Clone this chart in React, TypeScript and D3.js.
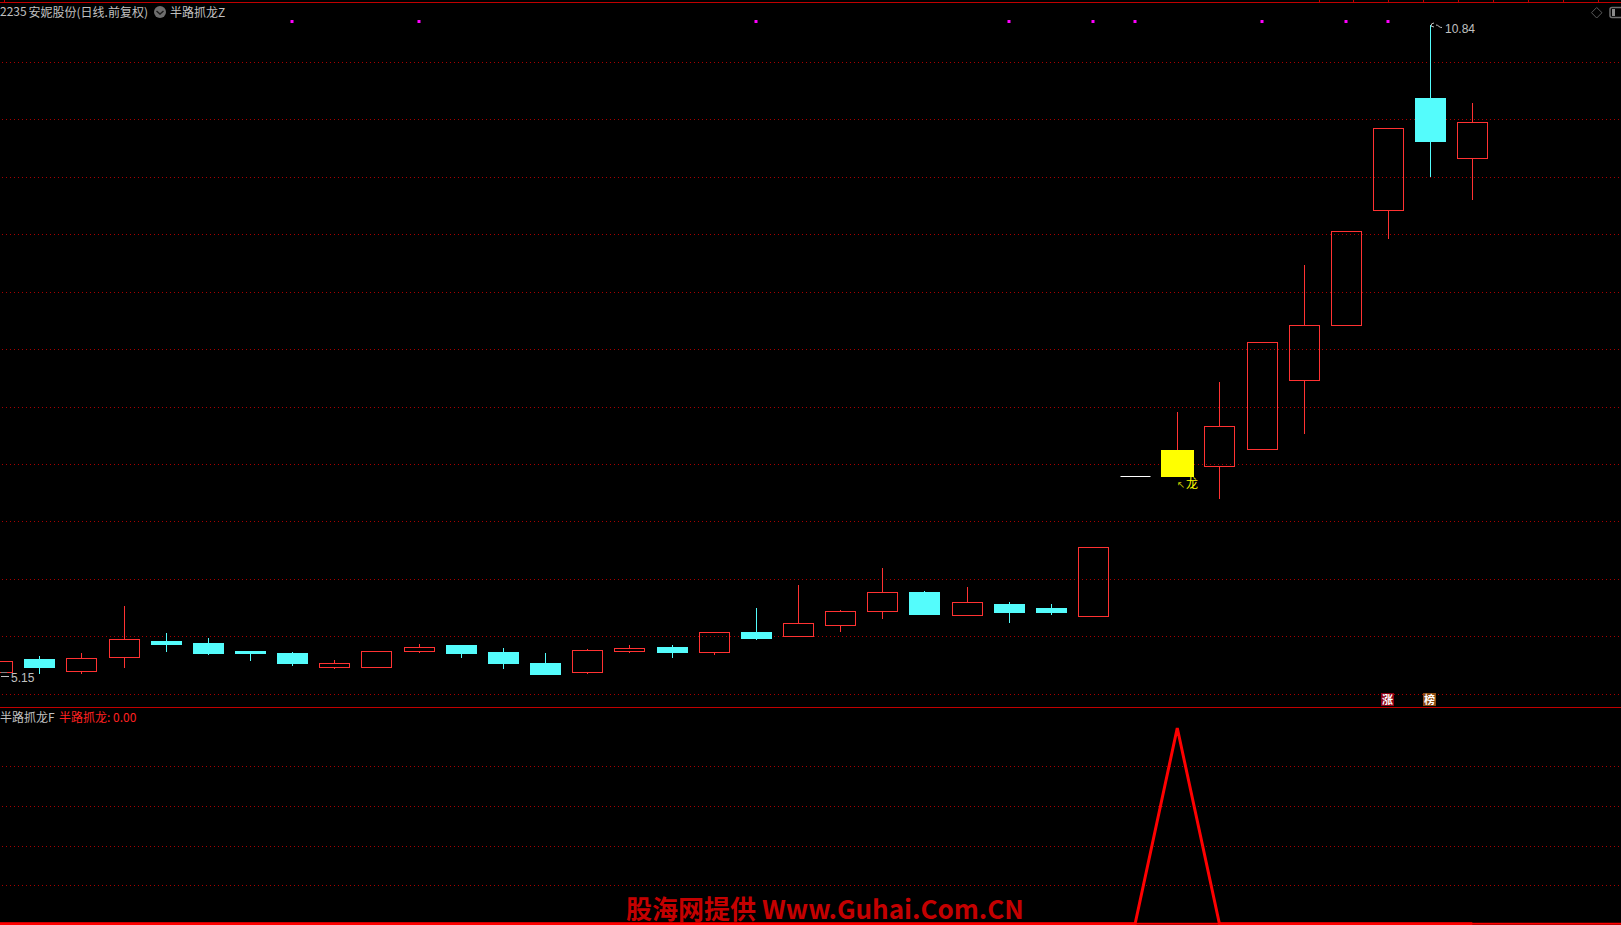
import React from "react";
import * as d3 from "d3";

const days = [-1,0,1,2,3,4,5,6,7,8,9,10,11,12,13,14,15,16,17,18,19,20,21,22,23,24,25,26,27,28,29,30,31,32,33,34];
const opens = [5.17,5.28,5.18,5.30,5.44,5.42,5.35,5.33,5.21,5.21,5.35,5.40,5.34,5.25,5.17,5.35,5.39,5.34,5.52,5.48,5.58,5.70,5.87,5.67,5.76,5.73,5.66,6.89,7.11,6.97,7.12,7.73,8.21,9.22,10.20,9.67];
const highs = [5.26,5.31,5.33,5.75,5.51,5.47,5.35,5.34,5.27,5.35,5.41,5.40,5.38,5.33,5.37,5.40,5.40,5.52,5.73,5.93,5.71,6.08,5.88,5.91,5.78,5.76,6.26,6.89,7.45,7.71,8.06,8.74,9.03,9.94,10.84,10.16];
const lows = [5.17,5.15,5.15,5.20,5.34,5.32,5.26,5.22,5.19,5.21,5.33,5.29,5.19,5.15,5.15,5.33,5.29,5.32,5.45,5.48,5.52,5.63,5.68,5.67,5.60,5.67,5.66,6.89,6.89,6.68,7.12,7.25,8.21,8.96,9.51,9.31];
const closes = [5.26,5.21,5.29,5.46,5.41,5.33,5.33,5.25,5.25,5.35,5.39,5.33,5.25,5.15,5.36,5.38,5.34,5.52,5.47,5.60,5.70,5.87,5.68,5.78,5.69,5.69,6.26,6.89,6.89,7.32,8.06,8.21,9.03,9.94,9.82,9.99];
const signalValues = [0,0,0,0,0,0,0,0,0,0,0,0,0,0,0,0,0,0,0,0,0,0,0,0,0,0,0,0,1,0,0,0,0,0,0,0];
const yellowDays = [27];
const markerDays = [6,9,17,23,25,26,29,31,32];
const mainGridIdx = [0,1,2,3,4,5,6,7,8,9,10,11];
const subGridIdx = [0,1,2,3];
const topTicks = [4,1319,1353,1388,1423,1458,1493,1528,1563,1598];

const RED = "#ff3232";
const CYAN = "#54fcfc";
const GRID = "#a80000";
const BORDER = "#c00000";
const CJK = "'Noto Sans CJK SC', 'Liberation Sans', sans-serif";
const NUM = "'Liberation Sans', sans-serif";

export default function App() {
  const x = d3.scaleLinear().domain([0, 34]).range([39.3, 1472.3]);
  const y = d3.scaleLinear().domain([5.15, 10.84]).range([674, 25]);
  const ySub = d3.scaleLinear().domain([0, 1]).range([923.7, 728]);
  const gridMain = d3.scaleLinear().domain([0, 11]).range([62, 693.6]);
  const gridSub = d3.scaleLinear().domain([0, 3]).range([766.3, 885.3]);
  const crisp = (v: number) => Math.round(v) + 0.5;
  const line = d3
    .line<number>()
    .x((d) => x(d))
    .y((_, i) => ySub(signalValues[i]));

  return (
    <svg
      width={1621}
      height={925}
      style={{ position: "fixed", left: 0, top: 0, background: "#000" }}
    >
      <rect width={1621} height={925} fill="#000" />
      {mainGridIdx.map((i) => (
        <line key={i} x1={2} x2={1621} y1={crisp(gridMain(i))} y2={crisp(gridMain(i))} stroke={GRID} strokeDasharray="1 3" />
      ))}
      {subGridIdx.map((i) => (
        <line key={i} x1={2} x2={1621} y1={crisp(gridSub(i))} y2={crisp(gridSub(i))} stroke={GRID} strokeDasharray="1 3" />
      ))}
      <line x1={0} x2={1621} y1={2.5} y2={2.5} stroke={BORDER} />
      {topTicks.map((t) => (
        <line key={t} x1={t + 0.5} x2={t + 0.5} y1={0} y2={2} stroke={BORDER} />
      ))}
      <line x1={0} x2={1621} y1={707.5} y2={707.5} stroke={BORDER} />

      {markerDays.map((d) => (
        <rect key={d} x={Math.round(x(d)) - 1.5} y={20} width={3} height={3} fill="#ff00ff" />
      ))}

      {days.map((d, i) => {
        const o = opens[i], c = closes[i], h = highs[i], l = lows[i];
        const cx = crisp(x(d));
        const top = crisp(y(Math.max(o, c)));
        const bot = crisp(y(Math.min(o, c)));
        const isYellow = yellowDays.includes(d);
        if (o === c && h === l) {
          return <line key={d} x1={cx - 15} x2={cx + 15} y1={top} y2={top} stroke="#ffffff" />;
        }
        const up = c >= o;
        const col = up || isYellow ? RED : CYAN;
        return (
          <g key={d} shapeRendering="crispEdges">
            <line x1={cx} x2={cx} y1={y(h)} y2={top} stroke={col} />
            <line x1={cx} x2={cx} y1={bot} y2={y(l)} stroke={col} />
            {isYellow ? (
              <rect x={cx - 16.5} y={top - 0.5} width={33} height={bot - top + 1} fill="#ffff00" />
            ) : up ? (
              <rect x={cx - 15} y={top} width={30} height={Math.max(bot - top, 1)} fill="none" stroke={RED} />
            ) : (
              <rect x={cx - 15.5} y={top - 0.5} width={31} height={Math.max(bot - top + 1, 1)} fill={CYAN} />
            )}
          </g>
        );
      })}

      <path d={line(days) || ""} fill="none" stroke="#ff0000" strokeWidth={3} strokeLinejoin="miter" />
      <line x1={0} x2={1621} y1={923.7} y2={923.7} stroke="#ff0000" strokeWidth={2} />

      <g fontFamily={CJK} fontSize={12} fill="#c0c0c0">
        <text x={0} y={16}>2235</text>
        <text x={28.5} y={16.5}>安妮股份(日线.前复权)</text>
        <text x={170} y={16.5}>半路抓龙Z</text>
        <text x={0} y={721.5}>半路抓龙F</text>
      </g>
      <circle cx={160} cy={12} r={6} fill="#6e6e6e" />
      <path d="M156.5 11 L160 14 L163.5 11" fill="none" stroke="#1c1c1c" strokeWidth={1.4} />
      <text x={59} y={721.5} fontFamily={CJK} fontSize={12} fill="#ff2020">半路抓龙: 0.00</text>

      <g fontFamily={NUM} fontSize={12} fill="#c0c0c0">
        <text x={11} y={682}>5.15</text>
        <text x={1445} y={33}>10.84</text>
      </g>
      <path d="M1 676.5 H9" stroke="#c0c0c0" />
      <path d="M1 672.5 H7" stroke="#808080" />
      <path d="M1431 26 Q1431 23 1434 23 M1431 26 L1434 27 M1436 25 Q1438 25 1439 26.5 Q1440 27.5 1442 27.5" fill="none" stroke="#c0c0c0" />

      <text x={1177} y={488} fontFamily="'DejaVu Sans', sans-serif" fontSize={10} fill="#c8c800">↖</text>
      <text x={1186} y={488} fontFamily={CJK} fontSize={12} fill="#ffff00">龙</text>

      <rect x={1381} y={693} width={13} height={13} fill="#8c0014" />
      <text x={1387.5} y={704} textAnchor="middle" fontFamily={CJK} fontWeight={700} fontSize={11} fill="#fff">涨</text>
      <rect x={1423} y={693} width={13} height={13} fill="#8a4a10" />
      <text x={1429.5} y={704} textAnchor="middle" fontFamily={CJK} fontWeight={700} fontSize={11} fill="#fff">榜</text>

      <path d="M1596.7 7.5 L1602 12.7 L1596.7 18 L1591.5 12.7 Z" fill="none" stroke="#5a5a5a" />
      <rect x={1610} y={7.5} width={14} height={10} rx={2} fill="none" stroke="#6e6e6e" strokeWidth={1.5} />
      <rect x={1612} y={9} width={3} height={7} fill="#8a8a8a" />

      <text x={626} y={919} fontFamily={CJK} fontWeight={700} fontSize={26} fill="#c40000">股海网提供 Www.Guhai.Com.CN</text>
    </svg>
  );
}
